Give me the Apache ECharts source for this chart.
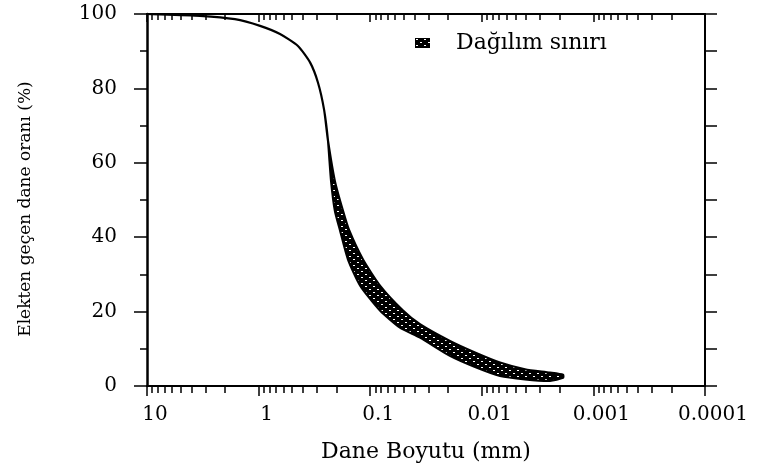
<!DOCTYPE html>
<html>
<head>
<meta charset="utf-8">
<script src="https://cdn.jsdelivr.net/npm/echarts@6/dist/echarts.min.js"></script>
<style>
    html, body { margin: 0; padding: 0; background: #fff; }
    #chart { width: 766px; height: 473px; }
</style>
</head>
<body>
<div id="chart"></div>
<script>
// dane boyutu (mm) -> elekten geçen oran (%)
var sizeMin = 0.0001;
var sizeMax = 10;
// ortak kısım (tek eğri)
var commonSize = [10, 3.35, 1.63, 0.97, 0.643, 0.444, 0.346, 0.294, 0.259, 0.239];
var commonPass = [100, 99.5, 98.6, 96.8, 94.6, 91.4, 87, 81.6, 74.3, 66];
// dağılım sınırı - üst kenar
var upperSize = [0.207, 0.175, 0.155, 0.116, 0.0817, 0.0508, 0.0358, 0.0193, 0.0115, 0.00687, 0.0041, 0.00245, 0.00187];
var upperPass = [55, 47, 42, 34, 27, 20.3, 16.6, 12.1, 9.0, 6.3, 4.5, 3.6, 3.0];
// dağılım sınırı - alt kenar
var lowerSize = [0.224, 0.207, 0.187, 0.158, 0.123, 0.0817, 0.0541, 0.0358, 0.0193, 0.0115, 0.00687, 0.0041, 0.00245, 0.00187];
var lowerPass = [55, 47, 42, 34, 27, 20.3, 15.7, 13.0, 8.1, 5.1, 2.7, 1.8, 1.4, 2.2];

var FONT = 'DejaVu Serif';

function pairs(xs, ys) {
    var out = [];
    for (var i = 0; i < xs.length; i++) out.push([xs[i], ys[i]]);
    return out;
}
var upperLine = pairs(commonSize, commonPass).concat(pairs(upperSize, upperPass));
var lowerLine = pairs(commonSize, commonPass).concat(pairs(lowerSize, lowerPass));

// ara çentikler 2..9 her dekad için
var minorTicks = [];
for (var e = -4; e < 1; e++) {
    for (var k = 1; k <= 9; k++) minorTicks.push(+(k * Math.pow(10, e)).toPrecision(3));
}
minorTicks.push(10);

// taralı dolgu
var pat = document.createElement('canvas');
pat.width = 8; pat.height = 6;
var pc = pat.getContext('2d');
pc.fillStyle = '#000'; pc.fillRect(0, 0, 8, 6);
pc.fillStyle = '#fff'; pc.fillRect(1, 1, 2, 1); pc.fillRect(5, 4, 2, 1);
var bandFill = { image: pat, repeat: 'repeat' };

var myChart = echarts.init(document.getElementById('chart'));

function logAxis(pos, inside, showLine, ticks, len, labels) {
    return {
        type: 'log',
        logBase: 10,
        inverse: true,
        min: sizeMin,
        max: sizeMax,
        position: pos,
        axisLine: { show: showLine, onZero: false, lineStyle: { color: '#000', width: 2 } },
        axisTick: ticks ? { show: true, inside: inside, length: len, customValues: ticks, lineStyle: { color: '#000', width: 1.5 } }
                        : { show: true, inside: inside, length: len, lineStyle: { color: '#000', width: 1.5 } },
        axisLabel: labels ? {
            show: true, margin: 19, color: '#000', fontFamily: FONT, fontSize: 20,
            padding: [0, 0, 0, 16],
            formatter: function (v) { return String(Number(v.toPrecision(6))); }
        } : { show: false },
        splitLine: { show: false }
    };
}

var xBottom = logAxis('bottom', false, true, null, 10, true);
xBottom.name = 'Dane Boyutu (mm)';
xBottom.nameLocation = 'middle';
xBottom.nameGap = 55;
xBottom.nameTextStyle = { color: '#000', fontFamily: FONT, fontSize: 22 };

var option = {
    animation: false,
    backgroundColor: '#fff',
    grid: { left: 147, right: 61, top: 14, bottom: 87 },
    legend: {
        data: [{ name: 'Dağılım sınırı', icon: 'rect', itemStyle: { color: bandFill } }],
        left: 410,
        top: 27,
        itemWidth: 15,
        itemHeight: 10,
        textStyle: { color: '#000', fontFamily: FONT, fontSize: 22, padding: [0, 0, 0, 21] }
    },
    xAxis: [
        xBottom,
        logAxis('bottom', false, false, minorTicks, 7, false),
        logAxis('top', true, true, null, 8, false),
        logAxis('top', true, false, minorTicks, 6, false)
    ],
    yAxis: [{
        type: 'value',
        min: 0,
        max: 100,
        interval: 20,
        position: 'left',
        name: 'Elekten geçen dane oranı (%)',
        nameLocation: 'middle',
        nameRotate: 90,
        nameGap: 113,
        nameTextStyle: { color: '#000', fontFamily: FONT, fontSize: 17, padding: [0, 18, 0, 0] },
        axisLine: { show: true, lineStyle: { color: '#000', width: 2.5 } },
        axisTick: { show: true, length: 13, lineStyle: { color: '#000', width: 1.5 } },
        minorTick: { show: true, splitNumber: 2, length: 7, lineStyle: { color: '#000', width: 1.5 } },
        axisLabel: { margin: 30, color: '#000', fontFamily: FONT, fontSize: 20 },
        splitLine: { show: false }
    }, {
        type: 'value',
        min: 0,
        max: 100,
        interval: 10,
        position: 'right',
        axisLine: { show: true, lineStyle: { color: '#000', width: 2 } },
        axisTick: { show: true, length: 12, lineStyle: { color: '#000', width: 1.5 } },
        axisLabel: { show: false },
        splitLine: { show: false }
    }],
    series: [{
        name: 'Dağılım sınırı',
        type: 'custom',
        xAxisIndex: 0,
        yAxisIndex: 0,
        itemStyle: { color: bandFill },
        data: upperLine,
        renderItem: function (params, api) {
            if (params.dataIndex !== 0) return null;
            var pts = [];
            upperLine.forEach(function (p) { pts.push(api.coord(p)); });
            lowerLine.slice().reverse().forEach(function (p) { pts.push(api.coord(p)); });
            return {
                type: 'polygon',
                shape: { points: pts, smooth: 0.2 },
                style: { fill: bandFill, stroke: '#000', lineWidth: 2.2, lineJoin: 'round' }
            };
        }
    }]
};

myChart.setOption(option);
</script>
</body>
</html>
